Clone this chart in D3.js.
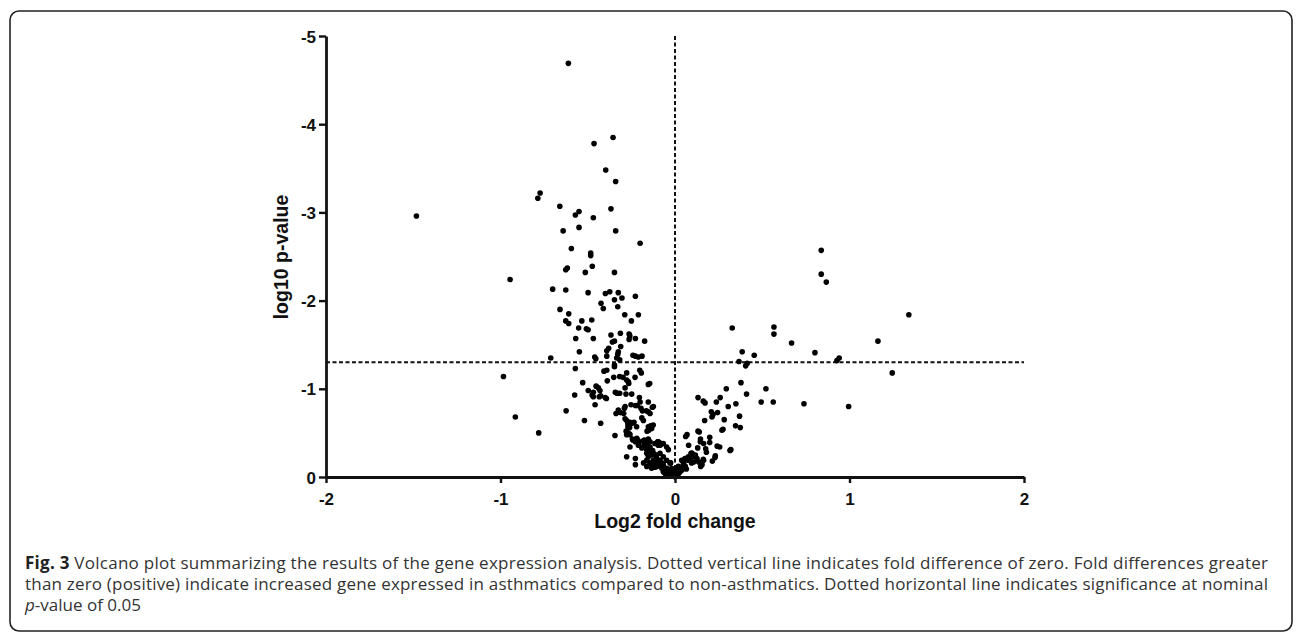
<!DOCTYPE html>
<html>
<head>
<meta charset="utf-8">
<script src="https://cdn.jsdelivr.net/npm/d3@7"></script>
<style>
  body { margin: 0; background: #fff; }
  .axis-label { font-family: "Liberation Sans", Arial, sans-serif; font-weight: bold; font-size: 19.5px; fill: #111; }
  .caption { font-family: "Open Sans", sans-serif; font-size: 17px; fill: #333; }
</style>
</head>
<body>
<svg id="volcano" width="1296" height="634"></svg>
<script>
// [log2 fold change, log10 p-value]
const upperLeft = [
  [-0.611,-4.69],[-0.464,-3.78],[-0.355,-3.85],[-0.397,-3.48],[-0.340,-3.35],[-1.482,-2.96],
  [-0.773,-3.22],[-0.786,-3.16],[-0.660,-3.07],[-0.550,-3.01],[-0.571,-2.97],[-0.468,-2.94],
  [-0.367,-3.04],[-0.641,-2.79],[-0.550,-2.83],[-0.340,-2.79],[-0.200,-2.65],[-0.594,-2.59],
  [-0.483,-2.54],[-0.483,-2.51],[-0.474,-2.39],[-0.626,-2.35],[-0.617,-2.37],[-0.514,-2.32],
  [-0.347,-2.32],[-0.945,-2.24],[-0.701,-2.13],[-0.626,-2.12],[-0.498,-2.09],[-0.399,-2.08],
  [-0.374,-2.10],[-0.325,-2.09],[-0.227,-2.05],[-0.347,-2.01],[-0.304,-2.03],[-0.424,-1.97],
  [-0.411,-1.91],[-0.328,-1.93],[-0.659,-1.90],[-0.609,-1.85],[-0.288,-1.84],[-0.210,-1.84],
  [-0.626,-1.77],[-0.609,-1.74],[-0.534,-1.77],[-0.477,-1.78],[-0.250,-1.77],[-0.552,-1.69],
  [-0.498,-1.67],[-0.508,-1.68],[-0.367,-1.61],[-0.313,-1.63],[-0.263,-1.62],[-0.259,-1.60],
  [-0.569,-1.57],[-0.468,-1.57],[-0.263,-1.56],[-0.227,-1.57],[-0.174,-1.54],[-0.359,-1.53],
  [-0.347,-1.54],[-0.311,-1.48],[-0.380,-1.46],[-0.391,-1.43],[-0.548,-1.42],[-0.325,-1.42],
  [-0.328,-1.39],[-0.241,-1.38],[-0.227,-1.37],[-0.210,-1.36],[-0.189,-1.37],[-0.712,-1.35],
  [-0.460,-1.36],[-0.454,-1.34],[-0.391,-1.37],[-0.334,-1.35],[-0.317,-1.33]
];

const midLeft = [
  [-0.347,-1.27],[-0.347,-1.25],[-0.571,-1.23],[-0.407,-1.20],[-0.391,-1.21],[-0.202,-1.21],
  [-0.193,-1.18],[-0.277,-1.18],[-0.351,-1.13],[-0.317,-1.14],[-0.298,-1.13],[-0.229,-1.13],
  [-0.983,-1.14],[-0.277,-1.10],[-0.267,-1.08],[-0.265,-1.06],[-0.388,-1.09],[-0.529,-1.07],
  [-0.153,-1.05],[-0.145,-1.06],[-0.452,-1.03],[-0.439,-1.01],[-0.286,-1.01],[-0.497,-0.98],
  [-0.468,-0.96],[-0.430,-0.98],[-0.342,-0.96],[-0.332,-0.95],[-0.317,-0.95],[-0.281,-0.94],
  [-0.248,-0.94],[-0.575,-0.93],[-0.475,-0.93],[-0.468,-0.91],[-0.426,-0.92],[-0.393,-0.89],
  [-0.434,-0.91],[-0.400,-0.90],[-0.204,-0.90],[-0.153,-0.85],[-0.200,-0.85],[-0.458,-0.82],
  [-0.286,-0.80],[-0.227,-0.81],[-0.216,-0.81],[-0.252,-0.82],[-0.195,-0.78],[-0.187,-0.75],
  [-0.164,-0.75],[-0.130,-0.79],[-0.124,-0.80],[-0.290,-0.78],[-0.624,-0.75],[-0.338,-0.72],
  [-0.313,-0.73],[-0.294,-0.72],[-0.325,-0.76],[-0.153,-0.74],[-0.143,-0.72],[-0.286,-0.66],
  [-0.277,-0.64],[-0.915,-0.68],[-0.270,-0.61],[-0.258,-0.62],[-0.246,-0.61],[-0.235,-0.62],
  [-0.181,-0.64],[-0.190,-0.67],[-0.519,-0.64],[-0.426,-0.61],[-0.270,-0.57],[-0.260,-0.56],
  [-0.220,-0.57],[-0.267,-0.59],[-0.140,-0.58],[-0.125,-0.59],[-0.134,-0.55],[-0.150,-0.53],
  [-0.160,-0.52],[-0.153,-0.57],[-0.280,-0.52],[-0.270,-0.50],[-0.262,-0.49],[-0.344,-0.47],
  [-0.781,-0.50],[-0.277,-0.48],[-0.258,-0.48]
];

const lowerLeft = [
  [-0.242,-0.42],[-0.227,-0.40],[-0.214,-0.42],[-0.204,-0.40],[-0.244,-0.43],[-0.219,-0.44],
  [-0.176,-0.42],[-0.153,-0.43],[-0.258,-0.34],[-0.178,-0.36],[-0.162,-0.38],[-0.099,-0.40],
  [-0.090,-0.39],[-0.080,-0.37],[-0.210,-0.36],[-0.190,-0.33],[-0.172,-0.36],[-0.143,-0.34],
  [-0.115,-0.38],[-0.096,-0.36],[-0.180,-0.41],[-0.172,-0.38],[-0.143,-0.40],[-0.096,-0.40],
  [-0.086,-0.36],[-0.067,-0.38],[-0.048,-0.34],[-0.038,-0.31],[-0.277,-0.23],[-0.227,-0.21],
  [-0.227,-0.14],[-0.162,-0.31],[-0.147,-0.27],[-0.128,-0.30],[-0.115,-0.25],[-0.086,-0.27],
  [-0.067,-0.23],[-0.153,-0.29],[-0.124,-0.27],[-0.105,-0.25],[-0.162,-0.27],[-0.153,-0.23],
  [-0.134,-0.25],[-0.124,-0.19],[-0.105,-0.21],[-0.096,-0.17],[-0.143,-0.16],[-0.124,-0.14],
  [-0.105,-0.12],[-0.076,-0.16],[-0.076,-0.12],[-0.162,-0.19],[-0.180,-0.16],[-0.162,-0.12],
  [-0.147,-0.13],[-0.124,-0.16],[-0.105,-0.17],[-0.086,-0.15],[-0.067,-0.14],[-0.048,-0.10],
  [-0.029,-0.08],[-0.010,-0.06],[-0.048,-0.19],[-0.025,-0.16],[-0.029,-0.16],[-0.019,-0.10],
  [-0.010,-0.04],[-0.038,-0.06],[-0.057,-0.08],[-0.076,-0.10],[-0.086,-0.19],[-0.096,-0.13],
  [-0.115,-0.11],[-0.134,-0.10],[-0.057,-0.04],[-0.033,-0.02],[-0.015,-0.01],[0.000,-0.003],
  [-0.005,-0.02],[-0.067,-0.06]
];

const rightSide = [
  [0.838,-2.57],[0.838,-2.30],[0.867,-2.21],[1.340,-1.84],[0.328,-1.69],[0.567,-1.70],
  [0.567,-1.62],[0.668,-1.52],[1.163,-1.54],[0.802,-1.41],[0.941,-1.35],[0.928,-1.32],
  [0.385,-1.42],[0.454,-1.38],[0.367,-1.31],[0.405,-1.26],[0.414,-1.29],[1.245,-1.18],
  [0.378,-1.07],[0.521,-1.00],[0.294,-1.00],[0.410,-0.94],[0.132,-0.90],[0.259,-0.90],
  [0.162,-0.86],[0.172,-0.84],[0.237,-0.85],[0.494,-0.85],[0.563,-0.85],[0.739,-0.83],
  [0.995,-0.80],[0.349,-0.83],[0.305,-0.80],[0.208,-0.74],[0.244,-0.73],[0.212,-0.68],
  [0.218,-0.71],[0.370,-0.69],[0.282,-0.65],[0.170,-0.64],[0.347,-0.58],[0.374,-0.56],
  [0.269,-0.53],[0.275,-0.54],[0.132,-0.52],[0.139,-0.51],[0.061,-0.46],[0.069,-0.48],
  [0.199,-0.45],[0.199,-0.39],[0.146,-0.43],[0.145,-0.40],[0.164,-0.38],[0.242,-0.35],
  [0.256,-0.34],[0.315,-0.30],[0.320,-0.31],[0.078,-0.36],[0.130,-0.33],[0.176,-0.32],
  [0.180,-0.28],[0.229,-0.22],[0.214,-0.18],[0.231,-0.24],[0.162,-0.20],[0.164,-0.19],
  [0.147,-0.12],[0.155,-0.14],[0.092,-0.27],[0.097,-0.27],[0.105,-0.23],[0.117,-0.25],
  [0.126,-0.21],[0.088,-0.21],[0.076,-0.19],[0.095,-0.16],[0.107,-0.17],[0.136,-0.17],
  [0.038,-0.19],[0.057,-0.21],[0.076,-0.23],[0.086,-0.19],[0.096,-0.27],[0.105,-0.25],
  [0.019,-0.12],[0.029,-0.06],[0.010,-0.08],[0.048,-0.14],[0.050,-0.16],[0.059,-0.12],
  [0.031,-0.10],[0.011,-0.05],[0.002,-0.02],[0.021,-0.04],[0.040,-0.08],[0.065,-0.09]
];

const xTicks = [-2, -1, 0, 1, 2];
const yTicks = [0, -1, -2, -3, -4, -5];
const pThreshold = -1.3;
const captionLines = [
  ["Fig. 3", " Volcano plot summarizing the results of the gene expression analysis. Dotted vertical line indicates fold difference of zero. Fold differences greater"],
  ["", "than zero (positive) indicate increased gene expressed in asthmatics compared to non-asthmatics. Dotted horizontal line indicates significance at nominal"],
  ["p", "-value of 0.05"]
];

const svg = d3.select("#volcano");
const margin = { top: 36, left: 326, right: 272, bottom: 157 };
const innerW = 1296 - margin.left - margin.right;
const innerH = 634 - margin.top - margin.bottom;

// figure frame
svg.append("rect")
  .attr("x", 10).attr("y", 11)
  .attr("width", 1282).attr("height", 620)
  .attr("rx", 9)
  .attr("fill", "none")
  .attr("stroke", "#222")
  .attr("stroke-width", 1.6);

const g = svg.append("g")
  .attr("transform", `translate(${margin.left},${margin.top})`);

const x = d3.scaleLinear().domain([-2, 2]).range([0, innerW]);
const y = d3.scaleLinear().domain([0, -5]).range([innerH, 0]);

// reference lines
g.append("line")
  .attr("x1", x(0)).attr("x2", x(0))
  .attr("y1", y(-5)).attr("y2", y(0))
  .attr("stroke", "#111").attr("stroke-width", 2)
  .attr("stroke-dasharray", "4,2.5");

g.append("line")
  .attr("x1", x(-2)).attr("x2", x(2))
  .attr("y1", y(pThreshold)).attr("y2", y(pThreshold))
  .attr("stroke", "#111").attr("stroke-width", 2)
  .attr("stroke-dasharray", "4,2.5");

const allPoints = upperLeft.concat(midLeft, lowerLeft, rightSide);

g.selectAll("circle")
  .data(allPoints)
  .enter()
  .append("circle")
  .attr("cx", d => x(d[0]))
  .attr("cy", d => y(d[1]))
  .attr("r", 2.8)
  .attr("fill", "#000");

const xAxis = g.append("g")
  .attr("transform", `translate(0,${innerH})`)
  .call(d3.axisBottom(x).tickValues(xTicks).tickFormat(d => String(d)).tickSize(6).tickSizeOuter(0));

const yAxis = g.append("g")
  .call(d3.axisLeft(y).tickValues(yTicks).tickFormat(d => String(d)).tickSize(7).tickSizeOuter(0));

[xAxis, yAxis].forEach(a => {
  a.select(".domain").attr("stroke", "#111").attr("stroke-width", 2.8);
  a.selectAll(".tick line").attr("stroke", "#111").attr("stroke-width", 2.4);
  a.selectAll(".tick text")
    .attr("font-family", "'Liberation Sans', Arial, sans-serif")
    .attr("font-weight", "bold")
    .attr("font-size", 17)
    .attr("fill", "#111");
});
xAxis.selectAll(".tick text").attr("y", 28).attr("dy", 0);
yAxis.selectAll(".tick text").attr("x", -10).attr("dy", "0.36em");

svg.append("text")
  .attr("class", "axis-label")
  .attr("x", margin.left + innerW / 2)
  .attr("y", 528)
  .attr("text-anchor", "middle")
  .text("Log2 fold change");

svg.append("text")
  .attr("class", "axis-label")
  .attr("transform", "rotate(-90)")
  .attr("x", -257)
  .attr("y", 288)
  .attr("text-anchor", "middle")
  .text("log10 p-value");

// caption
captionLines.forEach((line, i) => {
  const t = svg.append("text")
    .attr("class", "caption")
    .attr("x", 25)
    .attr("y", 569 + i * 21);
  if (i < 2) {
    t.attr("textLength", 1243).attr("lengthAdjust", "spacing");
  }
  if (line[0]) {
    t.append("tspan")
      .attr("font-weight", i === 0 ? "bold" : null)
      .attr("font-style", i === 2 ? "italic" : null)
      .attr("fill", i === 0 ? "#222" : null)
      .text(line[0]);
  }
  t.append("tspan").text(line[1]);
});
</script>
</body>
</html>
